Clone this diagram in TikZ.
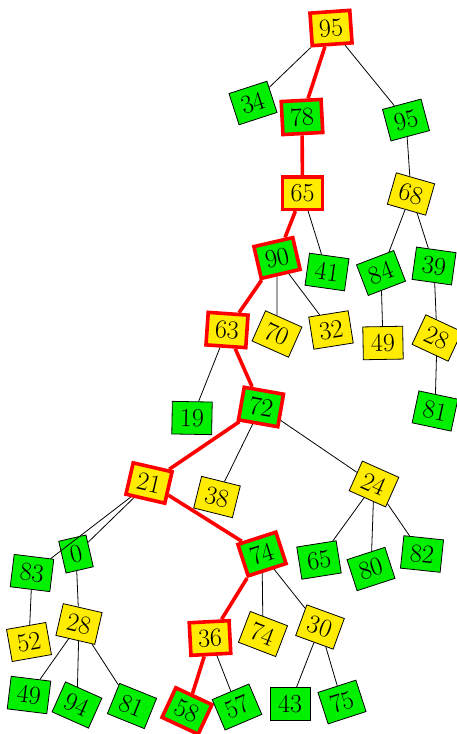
\documentclass[tikz,border=0pt]{standalone}
\usepackage{fontspec}
\usepackage{xcolor}
\definecolor{yel}{RGB}{255,236,0}
\definecolor{grn}{RGB}{0,240,0}
\tikzset{
  nd/.style={draw=black, line width=0.8pt, rectangle, inner xsep=8pt, inner ysep=7.5pt,
    font=\fontsize{26}{30}\selectfont},
  ynd/.style={nd, fill=yel},
  gnd/.style={nd, fill=grn},
  hl/.style={draw=red, line width=3.6pt},
  edge/.style={draw=black, line width=0.8pt},
  redge/.style={draw=red, line width=3.6pt},
}
\begin{document}
\begin{tikzpicture}[x=1pt,y=-1pt]
\useasboundingbox (0,0) rectangle (456,734);
% nodes
\node[ynd,hl,rotate=4]   (n95a) at (331,28) {95};
\node[gnd,rotate=18]     (n34)  at (253,103) {34};
\node[gnd,hl,rotate=3]   (n78)  at (302,117) {78};
\node[gnd,rotate=15]     (n95b) at (406,120) {95};
\node[ynd,hl,rotate=0]   (n65a) at (302.5,193) {65};
\node[ynd,rotate=-16]    (n68)  at (411,194) {68};
\node[gnd,hl,rotate=13]  (n90)  at (277,258) {90};
\node[gnd,rotate=-8]     (n41)  at (327,272) {41};
\node[gnd,rotate=21]     (n84)  at (381,273) {84};
\node[gnd,rotate=-8]     (n39)  at (434,266) {39};
\node[ynd,hl,rotate=-4]  (n63)  at (227,330) {63};
\node[ynd,rotate=-24]    (n70)  at (277,334) {70};
\node[ynd,rotate=9]      (n32)  at (331,330) {32};
\node[ynd,rotate=1]      (n49a) at (383,343) {49};
\node[ynd,rotate=-25]    (n28a) at (437,338) {28};
\node[gnd,rotate=-1]     (n19)  at (192,418) {19};
\node[gnd,hl,rotate=-10] (n72)  at (261,407) {72};
\node[gnd,rotate=-12]    (n81a) at (435,411) {81};
\node[ynd,hl,rotate=-13] (n21)  at (149,483) {21};
\node[ynd,rotate=-14]    (n38)  at (217,497) {38};
\node[ynd,rotate=-24]    (n24)  at (374,484) {24};
\node[gnd,rotate=13]     (n0)   at (76,554) {0};
\node[gnd,rotate=-7]     (n83)  at (32,573) {83};
\node[gnd,hl,rotate=18]  (n74a) at (262,554) {74};
\node[gnd,rotate=9]      (n65b) at (319,560) {65};
\node[gnd,rotate=18]     (n80)  at (371,569) {80};
\node[gnd,rotate=-6]     (n82)  at (422,554) {82};
\node[ynd,rotate=-13]    (n28b) at (79,624) {28};
\node[ynd,rotate=10]     (n52)  at (29,642) {52};
\node[gnd,rotate=-7]     (n49b) at (29,695) {49};
\node[gnd,rotate=-24]    (n94)  at (77,705) {94};
\node[gnd,rotate=-22]    (n81b) at (132,706) {81};
\node[ynd,hl,rotate=3]   (n36)  at (210,638) {36};
\node[ynd,rotate=-21]    (n74b) at (263,634) {74};
\node[ynd,rotate=-20]    (n30)  at (320,627) {30};
\node[gnd,hl,rotate=-25] (n58)  at (187,711) {58};
\node[gnd,rotate=23]     (n57)  at (237,707) {57};
\node[gnd,rotate=0]      (n43)  at (290,704) {43};
\node[gnd,rotate=18]     (n75)  at (342,702) {75};
% edges
\draw[edge] (n95a) -- (n34);
\draw[edge] (n95a) -- (n95b);
\draw[redge] (n95a) -- (n78);
\draw[redge] (n78) -- (n65a);
\draw[redge] (n65a) -- (n90);
\draw[edge] (n65a) -- (n41);
\draw[edge] (n95b) -- (n68);
\draw[edge] (n68) -- (n84);
\draw[edge] (n68) -- (n39);
\draw[edge] (n84) -- (n49a);
\draw[edge] (n39) -- (n28a);
\draw[edge] (n28a) -- (n81a);
\draw[redge] (n90) -- (n63);
\draw[edge] (n90) -- (n70);
\draw[edge] (n90) -- (n32);
\draw[edge] (n63) -- (n19);
\draw[redge] (n63) -- (n72);
\draw[redge] (n72) -- (n21);
\draw[edge] (n72) -- (n38);
\draw[edge] (n72) -- (n24);
\draw[edge] (n24) -- (n65b);
\draw[edge] (n24) -- (n80);
\draw[edge] (n24) -- (n82);
\draw[edge] (n21) -- (n0);
\draw[edge] (n21) -- (n83);
\draw[redge] (n21) -- (n74a);
\draw[edge] (n0) -- (n28b);
\draw[edge] (n83) -- (n52);
\draw[edge] (n28b) -- (n49b);
\draw[edge] (n28b) -- (n94);
\draw[edge] (n28b) -- (n81b);
\draw[redge] (n74a) -- (n36);
\draw[edge] (n74a) -- (n74b);
\draw[edge] (n74a) -- (n30);
\draw[redge] (n36) -- (n58);
\draw[edge] (n36) -- (n57);
\draw[edge] (n30) -- (n43);
\draw[edge] (n30) -- (n75);
\end{tikzpicture}
\end{document}
